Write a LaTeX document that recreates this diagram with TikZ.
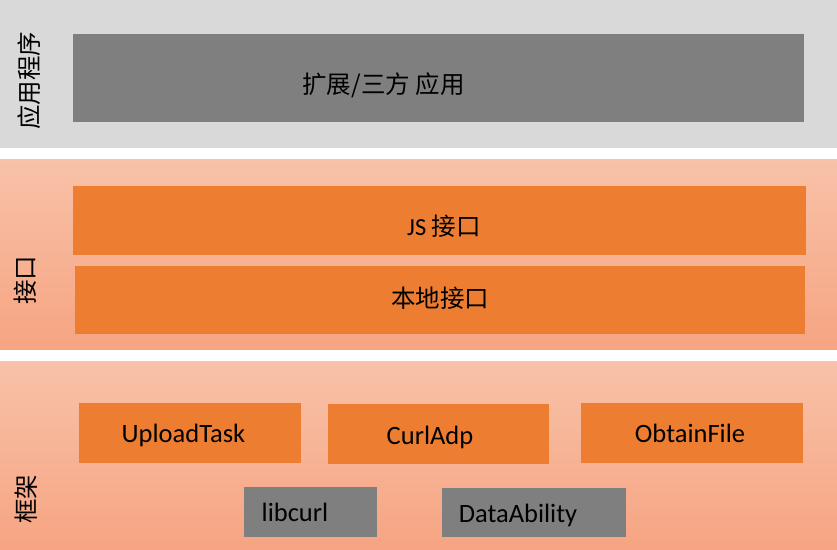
\documentclass[tikz,border=0pt]{standalone}
\usepackage{fontspec}
\setmainfont{Carlito}
\newfontfamily\cjk{Noto Sans CJK SC}
\definecolor{bandgray}{HTML}{D9D9D9}
\definecolor{boxgray}{HTML}{7F7F7F}
\definecolor{boxorange}{HTML}{ED7D31}
\definecolor{peachtop}{HTML}{F8C2A8}
\definecolor{peachbot}{HTML}{F6A482}
\begin{document}
\begin{tikzpicture}[x=1pt,y=-1pt,
  band/.style={draw=none},
  peach/.style={top color=peachtop,bottom color=peachbot,draw=none},
  obox/.style={fill=boxorange,draw=none},
  gbox/.style={fill=boxgray,draw=none},
  lat/.style={font=\fontsize{26.5}{28}\selectfont,anchor=base,inner sep=0pt},
  zh/.style={font=\cjk\fontsize{24.5}{28}\selectfont,anchor=center,inner sep=0pt},
  side/.style={font=\cjk\fontsize{24.5}{28}\selectfont,rotate=90,anchor=center,inner sep=0pt}]
\useasboundingbox (0,0) rectangle (837,549);
\fill[white] (0,0) rectangle (837,549);
% bands
\fill[bandgray] (0,0) rectangle (837,148);
\shade[peach] (0,159) rectangle (837,349);
\shade[peach] (0,361) rectangle (837,549);
% boxes
\fill[gbox] (73,34) rectangle (804,122);
\fill[obox] (73,186) rectangle (806,255);
\fill[obox] (75,266) rectangle (805,334);
\fill[obox] (79,403) rectangle (301,463);
\fill[obox] (328,404) rectangle (549,464);
\fill[obox] (581,403) rectangle (803,463);
\fill[gbox] (244,487) rectangle (377,537);
\fill[gbox] (442,488) rectangle (626,537);
% texts
\node[zh] (app) at (383.5,85) {扩展/三方 应用};
\node[zh] (js) at (444,226) {{\fontspec{Carlito}JS} 接口};
\node[zh] (native) at (440,298) {本地接口};
\node[lat] (upload) at (183.5,442) {UploadTask};
\node[lat] (curladp) at (430,444) {CurlAdp};
\node[lat] (obtain) at (690,442) {ObtainFile};
\node[lat] (libcurl) at (295,521) {libcurl};
\node[lat] (dataab) at (518,522) {DataAbility};
% side labels
\node[side] (l1) at (29.5,80.5) {应用程序};
\node[side] (l2) at (25.5,280) {接口};
\node[side] (l3) at (26,499) {框架};
\end{tikzpicture}
\end{document}
